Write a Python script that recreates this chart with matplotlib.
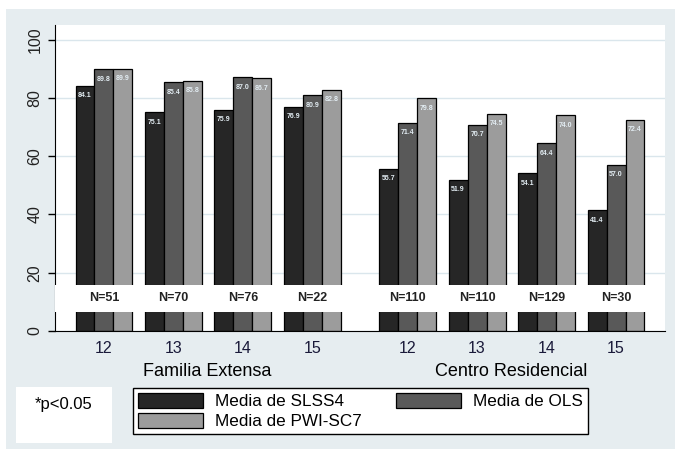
import matplotlib.pyplot as plt
from matplotlib.patches import Rectangle
import numpy as np

plt.rcParams['font.family'] = ['Liberation Sans', 'DejaVu Sans']

# data
edades = ["12", "13", "14", "15", "12", "13", "14", "15"]
grupos = ["Familia Extensa", "Centro Residencial"]
n_labels = ["N=51", "N=70", "N=76", "N=22", "N=110", "N=110", "N=129", "N=30"]
slss4 = [84.1, 75.1, 75.9, 76.9, 55.7, 51.9, 54.1, 41.4]
ols = [89.8, 85.4, 87.0, 80.9, 71.4, 70.7, 64.4, 57.0]
pwi = [89.9, 85.8, 86.7, 82.8, 79.8, 74.5, 74.0, 72.4]
series_names = ["Media de SLSS4", "Media de OLS", "Media de PWI-SC7"]
colores = ["#262626", "#595959", "#9c9c9c"]

fig = plt.figure(figsize=(6.75, 4.54), dpi=100)
fig.patch.set_facecolor("white")
# light blue-grey backdrop of the graph region
fig.patches.append(Rectangle((6 / 675, 1 - 449 / 454), 669 / 675, 440 / 454,
                             transform=fig.transFigure, facecolor="#e6edf0",
                             edgecolor="none", zorder=-2))

ax = fig.add_axes([55 / 675, 1 - 331 / 454, 610 / 675, 306 / 454])
ax.set_facecolor("white")

pos = np.array([0, 1, 2, 3, 4.37, 5.37, 6.37, 7.37])
w = 0.273
bars = []
for k, vals in enumerate([slss4, ols, pwi]):
    xs = pos + (k - 1) * w
    b = ax.bar(xs, vals, width=w, color=colores[k], edgecolor="black",
               linewidth=0.9, zorder=2, label=series_names[k])
    bars.append(b)
    for x, v in zip(xs, vals):
        ax.text(x, v - 2.2, f"{v:.1f}", ha="center", va="top", fontsize=5,
                color="#e3edf3", fontweight="bold", zorder=3)

# white band with the sample sizes
ax.axhspan(6.6, 15.9, color="white", zorder=4, linewidth=0)
for x, n in zip(pos, n_labels):
    ax.text(x, 11.3, n, ha="center", va="center", fontsize=9,
            fontweight="bold", color="#222222", zorder=5)

ax.set_xlim(-0.705, 8.075)
ax.set_ylim(0, 105)
ax.set_yticks([0, 20, 40, 60, 80, 100])
ax.set_yticklabels(["0", "20", "40", "60", "80", "100"], rotation=90,
                   va="center", fontsize=11.5, color="#222222")
ax.set_xticks(pos)
ax.set_xticklabels(edades, fontsize=11.5, color="#1a1a3a")
ax.tick_params(axis="x", length=0, pad=7)
ax.tick_params(axis="y", length=5, width=1, pad=4)
ax.grid(axis="y", color="#dae6ec", linewidth=1, zorder=0)
ax.set_axisbelow(True)
for s in ["top", "right"]:
    ax.spines[s].set_visible(False)
ax.spines["left"].set_color("black")
ax.spines["bottom"].set_color("black")

fig.text(207 / 675, 1 - 371 / 454, grupos[0], ha="center", va="center",
         fontsize=13, color="black")
fig.text(511 / 675, 1 - 371 / 454, grupos[1], ha="center", va="center",
         fontsize=13, color="black")

# p-value note box
fig.patches.append(Rectangle((16 / 675, 1 - 443 / 454), 96 / 675, 56 / 454,
                             transform=fig.transFigure, facecolor="white",
                             edgecolor="none", zorder=-1))
fig.text(64 / 675, 1 - 404 / 454, "*p<0.05", ha="center", va="center",
         fontsize=12, color="black")

# legend: SLSS4 and OLS on the first row, PWI-SC7 below
handles = [bars[0], bars[2], bars[1]]
labels = [series_names[0], series_names[2], series_names[1]]
leg = fig.legend(handles, labels, loc="upper left", ncol=2,
                 bbox_to_anchor=(133 / 675, 1 - 388 / 454),
                 borderaxespad=0,
                 fontsize=12.3, frameon=True, fancybox=False,
                 edgecolor="black", facecolor="white", framealpha=1,
                 handlelength=3.8, handleheight=0.95,
                 handletextpad=0.7, columnspacing=2.0, labelspacing=0.2,
                 borderpad=0.3)
leg.get_frame().set_linewidth(1)

fig.savefig("out.png", dpi=100)
